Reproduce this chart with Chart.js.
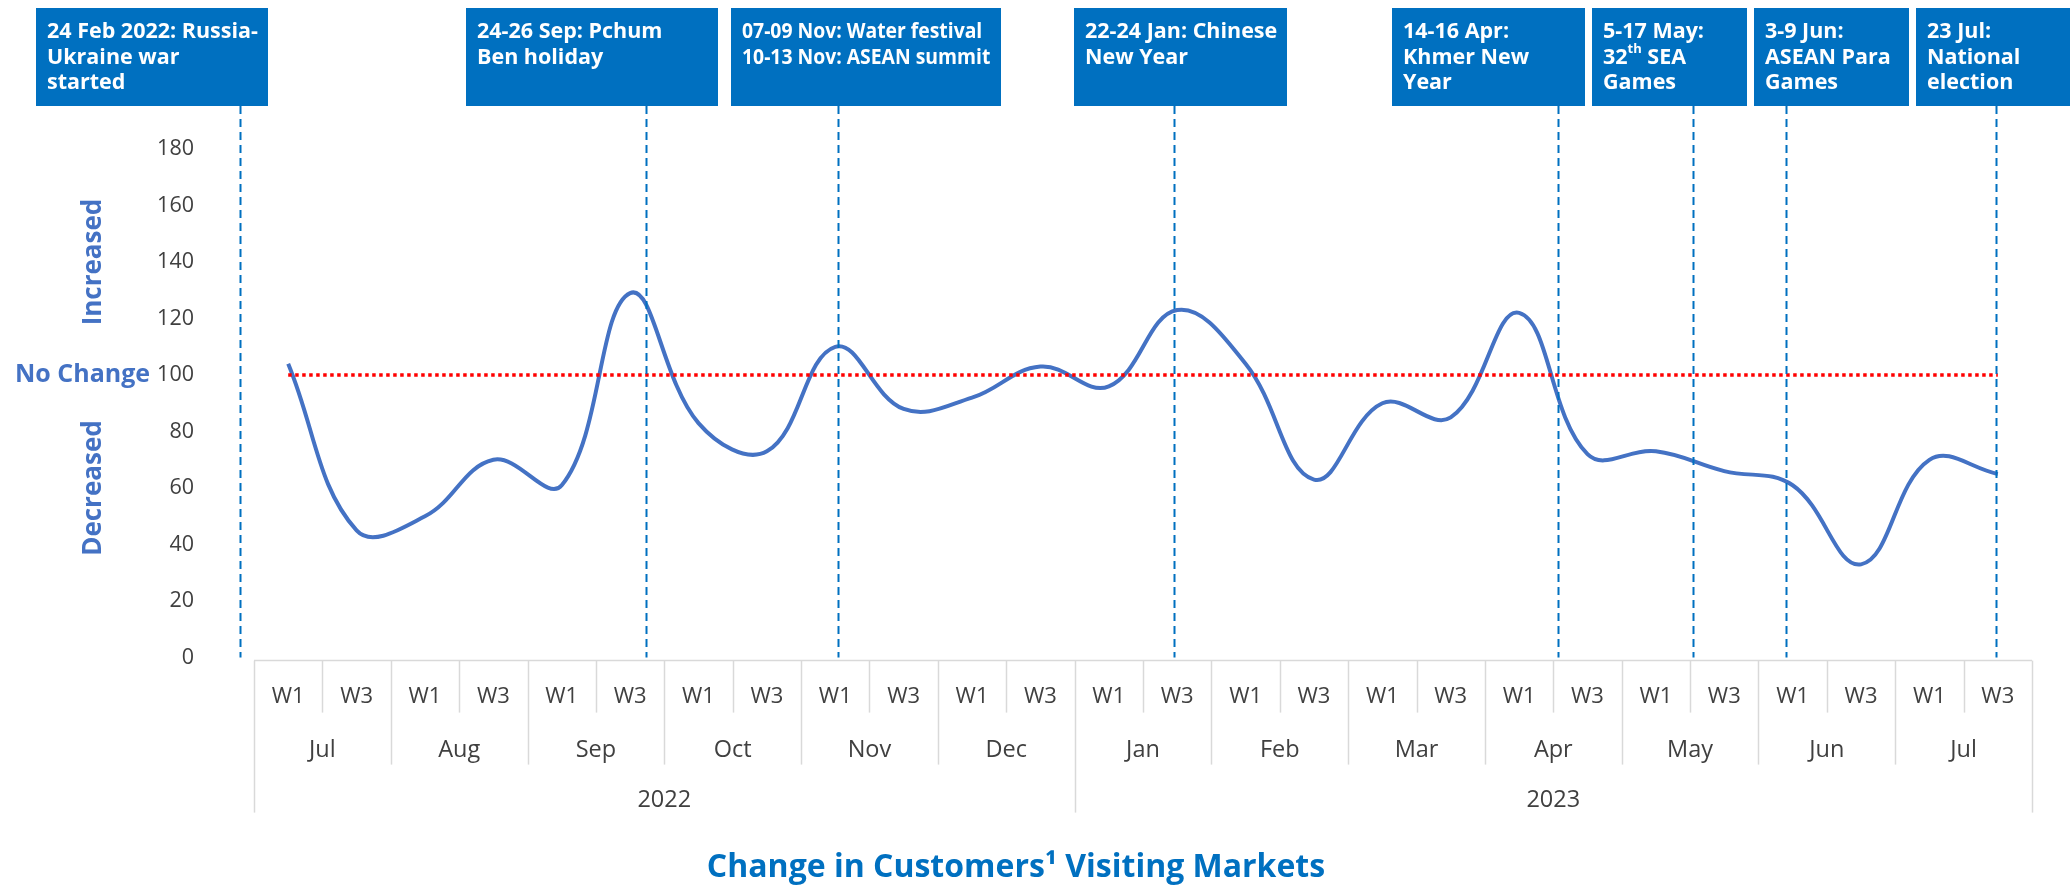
<!DOCTYPE html>
<html><head><meta charset="utf-8">
<script src="https://cdn.jsdelivr.net/npm/chart.js@4.4.1/dist/chart.umd.min.js"></script>
<style>html,body{margin:0;padding:0;background:#fff;}#wrap{width:2072px;height:887px;}</style>
</head><body><div id="wrap"><canvas id="c" width="2072" height="887"></canvas></div>
<script>
// ---- data ----
const weekLabels = ['W1','W3','W1','W3','W1','W3','W1','W3','W1','W3','W1','W3','W1','W3','W1','W3','W1','W3','W1','W3','W1','W3','W1','W3','W1','W3'];
const monthLabels = ['Jul','Aug','Sep','Oct','Nov','Dec','Jan','Feb','Mar','Apr','May','Jun','Jul'];
const yearLabels = ['2022','2023'];
const monthsPerYear = [6, 7];
const customers = [104, 45, 50, 70, 61, 129, 83, 73, 110, 88, 92, 103, 96, 123, 104, 63, 90, 85, 122, 72, 73, 66, 61, 33, 70, 65];
const noChange = [100,100,100,100,100,100,100,100,100,100,100,100,100,100,100,100,100,100,100,100,100,100,100,100,100,100];
const yTickValues = [0, 20, 40, 60, 80, 100, 120, 140, 160, 180];
// event markers: position on the week axis (category index) and label lines
const eventIndex = [-0.7, 5.23, 8.04, 12.95, 18.57, 20.54, 21.9, 24.97];
const eventText = [
  ['24 Feb 2022: Russia-', 'Ukraine war', 'started'],
  ['24-26 Sep: Pchum', 'Ben holiday'],
  ['07-09 Nov: Water festival', '10-13 Nov: ASEAN summit'],
  ['22-24 Jan: Chinese', 'New Year'],
  ['14-16 Apr:', 'Khmer New', 'Year'],
  ['5-17 May:', '32^{th} SEA', 'Games'],
  ['3-9 Jun:', 'ASEAN Para', 'Games'],
  ['23 Jul:', 'National', 'election']
];
const sideLabels = [['Increased', 140], ['No Change', 100], ['Decreased', 60]];
const titleText = 'Change in Customers\u00B9 Visiting Markets';

// ---- layout / style (not data) ----
const boxSpans = [[36,268],[466,718],[731,1001],[1074,1287],[1392,1585],[1592,1747],[1754,1909],[1916,2070]];
const boxTextScale = [1, 1, 0.9, 1, 1, 1, 1, 1];
const BOX_TOP = 8, BOX_BOTTOM = 106;
const BLUE = '#0070C0';

function drawRich(ctx, line, x, y, maxW, size, sx) {
  const parts = [];
  const re = /\^\{(.*?)\}/g; let last = 0, m;
  while ((m = re.exec(line)) !== null) {
    if (m.index > last) parts.push([line.slice(last, m.index), false]);
    parts.push([m[1], true]); last = re.lastIndex;
  }
  if (last < line.length) parts.push([line.slice(last), false]);
  const fBase = 'bold ' + size + 'px "Open Sans"';
  const fSup = 'bold ' + Math.round(size * 0.62) + 'px "Open Sans"';
  let total = 0;
  parts.forEach(p => { ctx.font = p[1] ? fSup : fBase; total += ctx.measureText(p[0]).width; });
  let f = sx;
  if (total * f > maxW) f = maxW / total;
  ctx.save();
  ctx.translate(x, y); ctx.scale(f, 1);
  let cx = 0;
  parts.forEach(p => {
    ctx.font = p[1] ? fSup : fBase;
    ctx.fillText(p[0], cx, p[1] ? -size * 0.38 : 0);
    cx += ctx.measureText(p[0]).width;
  });
  ctx.restore();
}

const decor = {
  id: 'decor',
  afterDatasetsDraw(chart) {
    const ctx = chart.ctx, xs = chart.scales.x, ca = chart.chartArea;
    ctx.save();
    ctx.strokeStyle = BLUE; ctx.lineWidth = 2; ctx.setLineDash([8, 5]);
    eventIndex.forEach(v => {
      const x = Math.round(xs.getPixelForValue(v)) + 0.5;
      ctx.beginPath(); ctx.moveTo(x, BOX_BOTTOM); ctx.lineTo(x, ca.bottom); ctx.stroke();
    });
    ctx.restore();
  },
  afterDraw(chart) {
    const ctx = chart.ctx, xs = chart.scales.x, ys = chart.scales.y, ca = chart.chartArea;
    const n = weekLabels.length;
    const bx = k => xs.getPixelForValue(k - 0.5);
    const top = ca.bottom + 3;
    const rowW = top + 52, rowM = top + 104, rowY = top + 152;
    ctx.save();
    ctx.strokeStyle = '#D9D9D9'; ctx.lineWidth = 1.5;
    ctx.beginPath(); ctx.moveTo(bx(0), top); ctx.lineTo(bx(n), top); ctx.stroke();
    const yearBounds = [0]; monthsPerYear.reduce((a, c) => { yearBounds.push(a + c * 2); return a + c * 2; }, 0);
    for (let k = 0; k <= n; k++) {
      let bot = rowW;
      if (k % 2 === 0) bot = rowM;
      if (yearBounds.includes(k)) bot = rowY;
      const x = Math.round(bx(k)) + 0.5;
      ctx.beginPath(); ctx.moveTo(x, top); ctx.lineTo(x, bot); ctx.stroke();
    }
    ctx.fillStyle = '#404040'; ctx.textAlign = 'center'; ctx.textBaseline = 'middle';
    ctx.font = '22px "Open Sans"';
    weekLabels.forEach((w, i) => ctx.fillText(w, xs.getPixelForValue(i), top + 36));
    ctx.font = '23.5px "Open Sans"';
    monthLabels.forEach((m, j) => ctx.fillText(m, (bx(2 * j) + bx(2 * j + 2)) / 2, top + 90));
    yearLabels.forEach((y, j) => ctx.fillText(y, (bx(yearBounds[j]) + bx(yearBounds[j + 1])) / 2, top + 140));
    // side labels
    ctx.fillStyle = '#4472C4';
    sideLabels.forEach(([t, v]) => {
      const y = ys.getPixelForValue(v);
      if (v === 100) { ctx.font = 'bold 25px "Open Sans"'; ctx.textAlign = 'left'; ctx.fillText(t, 15, y); }
      else { ctx.font = 'bold 26px "Open Sans"'; ctx.save(); ctx.translate(94, y); ctx.rotate(-Math.PI / 2); ctx.textAlign = 'center'; ctx.fillText(t, 0, 0); ctx.restore(); }
    });
    // event boxes
    eventText.forEach((lines, i) => {
      const [l, r] = boxSpans[i];
      ctx.fillStyle = BLUE; ctx.fillRect(l, BOX_TOP, r - l, BOX_BOTTOM - BOX_TOP);
      ctx.fillStyle = '#FFFFFF'; ctx.textAlign = 'left'; ctx.textBaseline = 'middle';
      lines.forEach((ln, j) => drawRich(ctx, ln, l + 11, 32 + j * 25.5, r - l - 18, 21.5, boxTextScale[i]));
    });
    ctx.restore();
  }
};

new Chart(document.getElementById('c'), {
  type: 'line',
  data: {
    labels: weekLabels,
    datasets: [
      { label: 'No change', data: noChange, borderColor: '#FF0000', borderWidth: 3.5, borderDash: [3.5, 3.5], pointRadius: 0, tension: 0, fill: false },
      { label: 'Customers visiting markets', data: customers, borderColor: '#4472C4', borderWidth: 4, pointRadius: 0, tension: 0.4, fill: false }
    ]
  },
  options: {
    responsive: false, animation: false, devicePixelRatio: 1,
    layout: { padding: { top: 149, right: 40, left: 0, bottom: 0 } },
    plugins: {
      legend: { display: false }, tooltip: { enabled: false },
      title: { display: true, position: 'bottom', text: titleText, color: BLUE,
        font: { family: 'Open Sans', weight: 'bold', size: 32, lineHeight: 1.2 }, padding: { top: 191, bottom: 0 } }
    },
    scales: {
      x: { display: false, offset: true },
      y: { min: 0, max: 180, afterBuildTicks: s => { s.ticks = yTickValues.map(v => ({ value: v })); },
        ticks: { padding: 60, color: '#404040', font: { family: 'Open Sans', size: 21.5 } },
        grid: { display: false, drawTicks: false }, border: { display: false },
        afterFit: s => { s.width = 254; } }
    }
  },
  plugins: [decor]
});
</script></body></html>
